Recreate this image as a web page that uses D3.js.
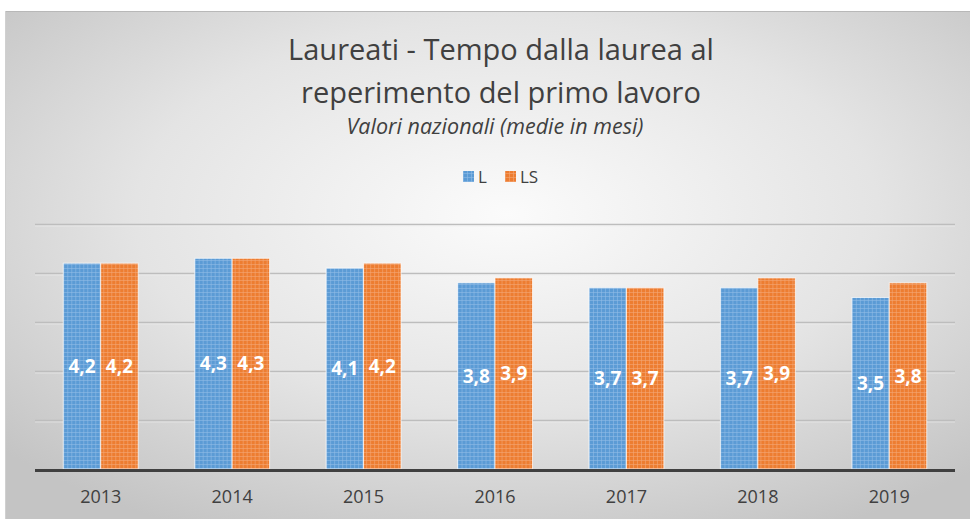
<!DOCTYPE html>
<html>
<head>
<meta charset="utf-8">
<script src="https://cdn.jsdelivr.net/npm/d3@7"></script>
<style>
  body { margin: 0; background: #fff; }
  svg { display: block; font-family: "Open Sans", Lato, sans-serif; }
</style>
</head>
<body>
<div id="chart"></div>
<script>
(function () {

  // data
  const years = ["2013", "2014", "2015", "2016", "2017", "2018", "2019"]
  const seriesL = [4.2, 4.3, 4.1, 3.8, 3.7, 3.7, 3.5]
  const seriesLS = [4.2, 4.3, 4.2, 3.9, 3.7, 3.9, 3.8]
  const seriesNames = ["L", "LS"]
  const yTicks = [0, 1, 2, 3, 4, 5]

  const W = 970, H = 519
  const margin = { top: 224, right: 15, bottom: 50, left: 35 }
  const width = W - margin.left - margin.right
  const height = H - margin.top - margin.bottom

  const svg = d3.select("#chart").append("svg")
      .attr("width", W)
      .attr("height", H)

  const defs = svg.append("defs")

  // background gradient
  const grad = defs.append("radialGradient")
      .attr("id", "bg")
      .attr("cx", "52%").attr("cy", "40%").attr("r", "70%")
  grad.append("stop").attr("offset", "0%").attr("stop-color", "#fbfbfb")
  grad.append("stop").attr("offset", "55%").attr("stop-color", "#e4e4e4")
  grad.append("stop").attr("offset", "100%").attr("stop-color", "#c4c4c4")

  // dotted fill patterns
  const colors = { L: "#5b9bd5", LS: "#ed7d31" }
  const lights = { L: "#8fbbe6", LS: "#f4a675" }
  seriesNames.forEach(s => {
    const p = defs.append("pattern")
        .attr("id", "pat" + s)
        .attr("width", 4).attr("height", 4)
        .attr("patternUnits", "userSpaceOnUse")
    p.append("rect").attr("width", 4).attr("height", 4).attr("fill", colors[s])
    p.append("rect").attr("x", 0).attr("y", 0).attr("width", 4).attr("height", 1).attr("fill", lights[s]).attr("opacity", 0.6)
    p.append("rect").attr("x", 0).attr("y", 0).attr("width", 1).attr("height", 4).attr("fill", lights[s]).attr("opacity", 0.6)
  })

  // background panel
  svg.append("rect")
      .attr("x", 5).attr("y", 11)
      .attr("width", W - 5).attr("height", H - 11)
      .attr("fill", "url(#bg)")
  svg.append("line")
      .attr("x1", 5).attr("x2", W).attr("y1", 11.5).attr("y2", 11.5)
      .attr("stroke", "#b8b8b8").attr("stroke-width", 1)
  svg.append("line")
      .attr("x1", 5.5).attr("x2", 5.5).attr("y1", 11).attr("y2", H)
      .attr("stroke", "#d0d0d0").attr("stroke-width", 1)

  // titles
  svg.append("text")
      .attr("x", 501).attr("y", 60)
      .attr("text-anchor", "middle")
      .attr("font-size", 29)
      .attr("fill", "#404040")
      .text("Laureati - Tempo dalla laurea al")
  svg.append("text")
      .attr("x", 501).attr("y", 103)
      .attr("text-anchor", "middle")
      .attr("font-size", 29)
      .attr("fill", "#404040")
      .text("reperimento del primo lavoro")
  svg.append("text")
      .attr("x", 495).attr("y", 134)
      .attr("text-anchor", "middle")
      .attr("font-size", 21.5)
      .attr("font-style", "italic")
      .attr("fill", "#404040")
      .text("Valori nazionali (medie in mesi)")

  // legend
  const legend = svg.append("g").attr("transform", "translate(463,177)")
  seriesNames.forEach((s, i) => {
    const g = legend.append("g").attr("transform", "translate(" + (i * 42) + ",0)")
    g.append("rect")
        .attr("x", 0).attr("y", -6).attr("width", 11).attr("height", 11)
        .attr("fill", "url(#pat" + s + ")")
    g.append("text")
        .attr("x", 15).attr("y", 0)
        .attr("dy", "0.35em")
        .attr("font-size", 17)
        .attr("fill", "#404040")
        .text(s)
  })

  const chart = svg.append("g")
      .attr("transform", "translate(" + margin.left + "," + margin.top + ")")

  const x = d3.scaleBand()
      .domain(years)
      .range([0, width])
      .paddingInner(0.43)
      .paddingOuter(0.215)

  const x1 = d3.scaleBand()
      .domain(seriesNames)
      .range([0, x.bandwidth()])

  const y = d3.scaleLinear()
      .domain([0, 5])
      .range([height, 0])

  // gridlines
  chart.selectAll(".grid")
    .data(yTicks.filter(d => d > 0))
    .join("line")
      .attr("class", "grid")
      .attr("x1", 0).attr("x2", width)
      .attr("y1", d => Math.round(y(d)) + 0.5)
      .attr("y2", d => Math.round(y(d)) + 0.5)
      .attr("stroke", "#bdbdbd")
      .attr("stroke-width", 1.5)
  chart.selectAll(".gridhi")
    .data(yTicks.filter(d => d > 0))
    .join("line")
      .attr("class", "gridhi")
      .attr("x1", 0).attr("x2", width)
      .attr("y1", d => Math.round(y(d)) + 2)
      .attr("y2", d => Math.round(y(d)) + 2)
      .attr("stroke", "#f0f0f0")
      .attr("stroke-width", 1)
      .attr("opacity", 0.6)

  const rows = years.map((yr, i) => ({ year: yr, L: seriesL[i], LS: seriesLS[i] }))

  const groups = chart.selectAll(".yr")
    .data(rows)
    .join("g")
      .attr("class", "yr")
      .attr("transform", d => "translate(" + x(d.year) + ",0)")

  const bars = groups.selectAll(".bar")
    .data(d => seriesNames.map(s => ({ key: s, value: d[s] })))
    .join("g")
      .attr("class", "bar")

  bars.append("rect")
      .attr("x", d => x1(d.key))
      .attr("y", d => y(d.value))
      .attr("width", x1.bandwidth())
      .attr("height", d => height - y(d.value))
      .attr("fill", d => "url(#pat" + d.key + ")")
      .attr("stroke", "#ffffff")
      .attr("stroke-opacity", 0.7)
      .attr("stroke-width", 1)

  bars.append("text")
      .attr("x", d => x1(d.key) + x1.bandwidth() / 2)
      .attr("y", d => (y(d.value) + height) / 2)
      .attr("dy", "0.35em")
      .attr("text-anchor", "middle")
      .attr("font-size", 19)
      .attr("font-weight", "bold")
      .attr("fill", "#ffffff")
      .text(d => d3.format(".1f")(d.value).replace(".", ","))

  // baseline + x axis labels
  chart.append("line")
      .attr("x1", 0).attr("x2", width)
      .attr("y1", height + 1.5).attr("y2", height + 1.5)
      .attr("stroke", "#404040")
      .attr("stroke-width", 3)

  const xAxis = chart.append("g")
      .attr("transform", "translate(0," + (height + 3) + ")")
      .call(d3.axisBottom(x).tickSize(0).tickPadding(18))
  xAxis.select(".domain").remove()
  xAxis.selectAll("text")
      .attr("font-size", 18)
      .attr("font-family", "\"Open Sans\", Lato, sans-serif")
      .attr("fill", "#404040")

})();
</script>
</body>
</html>
